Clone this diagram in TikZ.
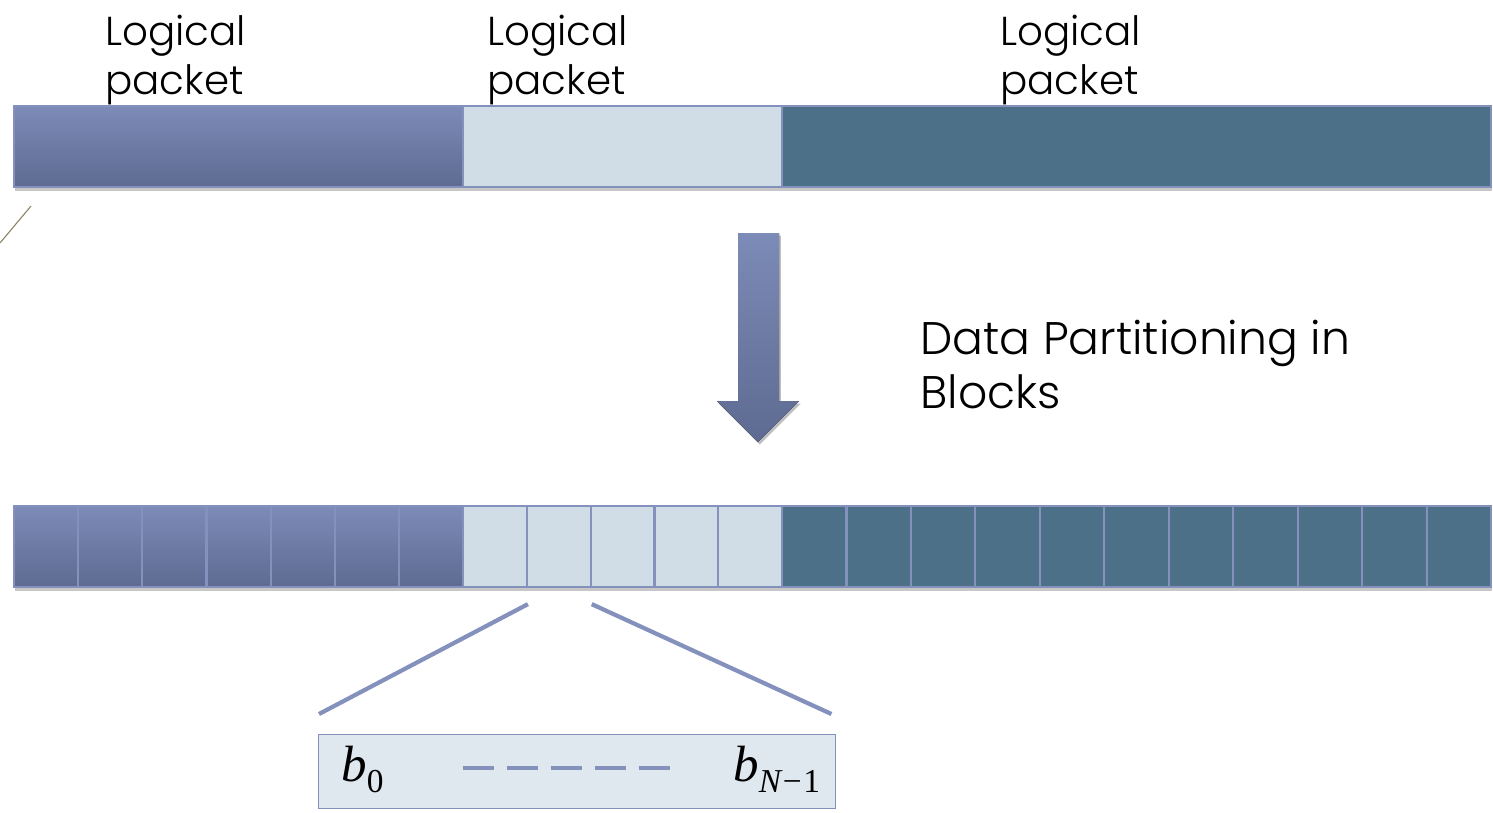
\documentclass[tikz,border=0pt]{standalone}
\usepackage{fontspec}
\setmainfont{Poppins}[UprightFont={* Light}]
\newfontfamily\bserif{Liberation Serif}
\newcommand\bsub[1]{\raisebox{-0.22cm}{\fontsize{19}{19}\selectfont #1}}
\definecolor{pblue}{HTML}{7C8BB7}
\definecolor{pbluedark}{HTML}{5E6A91}
\definecolor{plight}{HTML}{D0DDE6}
\definecolor{pteal}{HTML}{4D7089}
\definecolor{pedge}{HTML}{8391BC}
\definecolor{zfill}{HTML}{DFE7EF}
\definecolor{tick}{HTML}{8A7F62}
\usetikzlibrary{calc, positioning, shadows}

\begin{document}
\begin{tikzpicture}[
  seg/.style={draw=pedge, line width=1.2pt, minimum height=1.62cm,
              inner sep=0pt, anchor=north west,
              drop shadow={shadow xshift=0.6pt, shadow yshift=-2.5pt, opacity=.22, fill=black}},
  bluepart/.style={seg, top color=pblue, bottom color=pbluedark},
  lightpart/.style={seg, fill=plight},
  tealpart/.style={seg, fill=pteal},
  pklabel/.style={font=\fontsize{23}{27.5}\selectfont, align=left, anchor=north west, inner sep=0pt},
  fan/.style={draw=pedge, line width=2.4pt},
  bmath/.style={font=\bserif\itshape\fontsize{29}{32}\selectfont, inner sep=0pt},
]
\useasboundingbox (0,0) rectangle (29.86,-16.24);

\draw[tick, line width=0.6pt] (0,-4.86) -- (0.62,-4.12);

\node[bluepart, minimum width=8.98cm] (pk1) at (0.26,-2.1) {};
\node[lightpart, minimum width=6.38cm] (pk2) at (9.24,-2.1) {};
\node[tealpart, minimum width=14.18cm] (pk3) at (15.62,-2.1) {};

\node[pklabel] (lab1) at (2.1,-0.3) {Logical\\packet};
\node[pklabel] (lab2) at (9.74,-0.3) {Logical\\packet};
\node[pklabel] (lab3) at (20.0,-0.3) {Logical\\packet};

\fill[top color=pblue, bottom color=pbluedark,
      drop shadow={shadow xshift=1pt, shadow yshift=-1.5pt, opacity=.25, fill=black}]
  (14.76,-4.66) -- (15.58,-4.66) -- (15.58,-8.02) -- (15.98,-8.02)
  -- (15.16,-8.84) -- (14.34,-8.02) -- (14.76,-8.02) -- cycle;

\node[anchor=north west, align=left, inner sep=0pt, font=\fontsize{26}{30.5}\selectfont]
  (part) at (18.4,-6.4) {Data Partitioning in\\Blocks};

\foreach \i in {0,...,6}
  \node[bluepart, minimum width=1.283cm] (bb\i) at ({0.26+1.283*\i},-10.1) {};
\foreach \i in {1,...,5}
  \node[lightpart, minimum width=1.276cm] (lb\i) at ({9.24+1.276*(\i-1)},-10.1) {};
\foreach \i in {0,...,10}
  \node[tealpart, minimum width=1.289cm] (tb\i) at ({15.62+1.289*\i},-10.1) {};

\node[draw=pedge, line width=0.8pt, fill=zfill, minimum width=10.34cm,
      minimum height=1.48cm, anchor=north west, inner sep=0pt] (zoom) at (6.36,-14.68) {};

\draw[fan] ($(lb1.south east)+(0,-0.32)$) -- ($(zoom.north west)+(0.02,0.4)$);
\draw[fan] ($(lb2.south east)+(0,-0.32)$) -- ($(zoom.north east)+(-0.1,0.4)$);

\node[bmath, anchor=west] (b0) at ($(zoom.west)+(0.46,0.05)$) {b\bsub{\upshape 0}};
\node[bmath, anchor=east] (bN) at ($(zoom.east)+(-0.32,0.05)$) {b\bsub{N\upshape\kern1pt−\kern1pt1}};
\draw[fan, dash pattern=on 0.62cm off 0.26cm]
  ($(zoom.center)+(-2.29,0.08)$) -- ($(zoom.center)+(1.85,0.08)$);
\end{tikzpicture}
\end{document}
